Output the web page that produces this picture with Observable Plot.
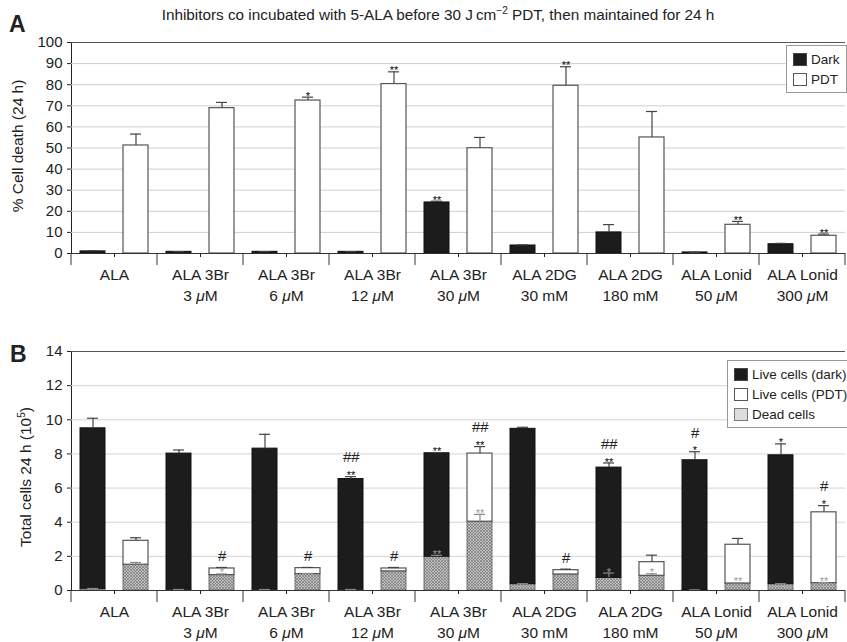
<!DOCTYPE html>
<html><head><meta charset="utf-8">
<script src="https://cdn.jsdelivr.net/npm/d3@7"></script>
<script src="https://cdn.jsdelivr.net/npm/@observablehq/plot@0.6"></script>
<style>
body{margin:0;background:#fff;font-family:"Liberation Sans",Arial,sans-serif;color:#222;}
#root{position:relative;width:847px;height:642px;overflow:hidden;background:#fff;}
.abs{position:absolute;white-space:nowrap;}
.panel{position:absolute;left:0;}
.big{font-weight:bold;font-size:23px;}
.ylab{font-size:15.5px;transform:translate(-50%,-50%) rotate(-90deg);}
.title{font-size:15.3px;transform:translateX(-50%);}
.legend{position:absolute;border:1px solid #999;background:#fff;font-size:13.5px;padding:3px 6px 3px 6px;white-space:nowrap;}
.legend .row{display:flex;align-items:center;height:20px;}
.sw{width:14px;height:13px;margin-right:4px;box-sizing:border-box;border:1px solid #444;flex:none;}
</style></head><body><div id="root"></div>
<script>
// ---------- data ----------
const groups = ["ALA","ALA 3Br 3","ALA 3Br 6","ALA 3Br 12","ALA 3Br 30","ALA 2DG 30","ALA 2DG 180","ALA Lonid 50","ALA Lonid 300"];
const labelLine1 = ["ALA","ALA 3Br","ALA 3Br","ALA 3Br","ALA 3Br","ALA 2DG","ALA 2DG","ALA Lonid","ALA Lonid"];
const labelLine2 = ["","3 μM","6 μM","12 μM","30 μM","30 mM","180 mM","50 μM","300 μM"];
const conds = ["Dark","PDT"];

// Panel A: % cell death (24 h)
const darkA    = [1.0, 0.8, 0.8, 0.8, 24.2, 3.8, 10.0, 0.5, 4.4];
const darkAErr = [1.3, 0.9, 0.9, 0.9, 24.8, 4.1, 13.7, 0.6, 4.8];
const pdtA     = [51.2, 68.9, 72.5, 80.3, 49.9, 79.5, 55.0, 13.6, 8.4];
const pdtAErr  = [56.6, 71.6, 74.1, 86.1, 55.0, 88.5, 67.3, 15.2, 9.2];
const sigDarkA = ["","","","","**","","","",""];
const sigPdtA  = ["","","*","**","","**","","**","**"];
const yTicksA = [0,10,20,30,40,50,60,70,80,90,100];

// Panel B: total cells 24 h (10^5)
const totalDark    = [9.50, 8.02, 8.31, 6.53, 8.04, 9.47, 7.20, 7.63, 7.92];
const totalDarkErr = [10.09, 8.23, 9.15, 6.67, 8.08, 9.56, 7.47, 8.13, 8.59];
const deadDark     = [0.10, 0.05, 0.05, 0.05, 1.98, 0.37, 0.74, 0.03, 0.37];
const deadDarkErr  = [0.12, 0.06, 0.06, 0.06, 2.06, 0.40, 1.02, 0.04, 0.40];
const totalPdt     = [2.91, 1.29, 1.31, 1.29, 8.02, 1.19, 1.66, 2.68, 4.58];
const totalPdtErr  = [3.09, 1.35, 1.35, 1.35, 8.43, 1.25, 2.07, 3.05, 4.97];
const deadPdt      = [1.51, 0.90, 0.96, 1.12, 4.03, 0.94, 0.86, 0.41, 0.43];
const deadPdtErr   = [1.64, 0.97, 1.00, 1.15, 4.46, 0.98, 0.98, 0.45, 0.47];
const starTopDark  = ["","","","**","**","","**","*","*"];
const hashTopDark  = ["","","","##","","","##","#",""];
const starTopPdt   = ["","","","","**","","","","*"];
const hashTopPdt   = ["","#","#","#","##","#","","","#"];
const starDeadDark = ["","","","","**","","*","",""];
const starDeadPdt  = ["","*","","","**","","*","**","**"];
const yTicksB = [0,2,4,6,8,10,12,14];

// ---------- tables ----------
const rowsA = groups.flatMap((g,i) => [
  {group:g, cond:"Dark", value:darkA[i], err:darkAErr[i], sig:sigDarkA[i]},
  {group:g, cond:"PDT",  value:pdtA[i],  err:pdtAErr[i],  sig:sigPdtA[i]}
]);
const rowsB = groups.flatMap((g,i) => [
  {group:g, cond:"Dark", total:totalDark[i], totalErr:totalDarkErr[i], dead:deadDark[i], deadErr:deadDarkErr[i],
   star:starTopDark[i], hash:hashTopDark[i], starDead:starDeadDark[i]},
  {group:g, cond:"PDT", total:totalPdt[i], totalErr:totalPdtErr[i], dead:deadPdt[i], deadErr:deadPdtErr[i],
   star:starTopPdt[i], hash:hashTopPdt[i], starDead:starDeadPdt[i]}
]);
const labelOf = g => { const i = groups.indexOf(g); return labelLine2[i] ? labelLine1[i] + "\n" + labelLine2[i] : labelLine1[i]; };

const FONT = "Liberation Sans, Arial, sans-serif";
const common = (rows) => ({
  width: 847, marginLeft: 69, marginRight: 0,
  style: {fontFamily: FONT, fontSize: "15px", color: "#222", background: "transparent", overflow: "visible"},
  facet: {data: rows, x: "group"},
  fx: {domain: groups, padding: 0, axis: "bottom", label: null, tickSize: 4, tickFormat: () => ""},
  x: {domain: conds, axis: null, paddingInner: 0.42, paddingOuter: 0.21},
});
const capOpts = {insetLeft: 7, insetRight: 7};
const groupLabels = rows => Plot.text(rows, {filter: d => d.cond === "Dark", frameAnchor: "bottom", text: d => labelOf(d.group),
  lineAnchor: "top", dy: 12, lineHeight: 1.35, fontSize: 15.5, fill: "#222"});

// ---------- panel A ----------
const chartA = Plot.plot({
  ...common(rowsA),
  height: 318, marginTop: 42, marginBottom: 65,
  y: {domain: [0,100], ticks: yTicksA, label: null, tickSize: 4, line: true},
  marks: [
    Plot.ruleY(yTicksA.slice(1, -1), {stroke: "#cfcfcf"}),
    Plot.ruleY([100], {stroke: "#555"}),
    Plot.barY(rowsA, {filter: d => d.cond === "Dark", x: "cond", y: "value", fill: "#1c1c1c", stroke: "#111"}),
    Plot.barY(rowsA, {filter: d => d.cond === "PDT", x: "cond", y: "value", fill: "#fff", stroke: "#555", strokeWidth: 1.2}),
    Plot.ruleX(rowsA, {x: "cond", y1: "value", y2: "err", stroke: "#444", strokeWidth: 1.2}),
    Plot.tickY(rowsA, {x: "cond", y: "err", stroke: "#444", strokeWidth: 1.2, ...capOpts}),
    Plot.ruleY([0], {stroke: "#333"}),
    Plot.text(rowsA, {filter: d => d.sig, x: "cond", y: "err", text: "sig", dy: -1, fontSize: 11, fill: "#000"}),
    groupLabels(rowsA)
  ]
});

// ---------- panel B ----------
const chartB = Plot.plot({
  ...common(rowsB),
  height: 324, marginTop: 33, marginBottom: 52,
  y: {domain: [0,14], ticks: yTicksB, label: null, tickSize: 4, line: true},
  marks: [
    Plot.ruleY(yTicksB.slice(1, -1), {stroke: "#d4d4d4"}),
    Plot.ruleY([14], {stroke: "#555"}),
    Plot.barY(rowsB, {x: "cond", y1: 0, y2: "dead", fill: "url(#hatchB)", stroke: "#555", strokeWidth: 0.8}),
    Plot.barY(rowsB, {filter: d => d.cond === "Dark", x: "cond", y1: "dead", y2: "total", fill: "#1c1c1c", stroke: "#111"}),
    Plot.barY(rowsB, {filter: d => d.cond === "PDT", x: "cond", y1: "dead", y2: "total", fill: "#fff", stroke: "#555", strokeWidth: 1.2}),
    Plot.ruleX(rowsB, {x: "cond", y1: "dead", y2: "deadErr", stroke: "#8a8a8a", strokeWidth: 1.2}),
    Plot.tickY(rowsB, {x: "cond", y: "deadErr", stroke: "#8a8a8a", strokeWidth: 1.2, ...capOpts}),
    Plot.ruleX(rowsB, {x: "cond", y1: "total", y2: "totalErr", stroke: "#444", strokeWidth: 1.2}),
    Plot.tickY(rowsB, {x: "cond", y: "totalErr", stroke: "#444", strokeWidth: 1.2, ...capOpts}),
    Plot.ruleY([0], {stroke: "#333"}),
    Plot.text(rowsB, {filter: d => d.starDead, x: "cond", y: "deadErr", text: "starDead", dy: -1, fontSize: 11, fill: "#9a9a9a"}),
    Plot.text(rowsB, {filter: d => d.star, x: "cond", y: "totalErr", text: "star", dy: -1, fontSize: 11, fill: "#000"}),
    Plot.text(rowsB, {filter: d => d.hash && d.star, x: "cond", y: "totalErr", text: "hash", dy: -19, fontSize: 15, fontStyle: "italic", fill: "#222"}),
    Plot.text(rowsB, {filter: d => d.hash && !d.star, x: "cond", y: "totalErr", text: "hash", dy: -11, fontSize: 15, fontStyle: "italic", fill: "#222"}),
    groupLabels(rowsB)
  ]
});

// ---------- post-processing: separators, hatch, italic mu ----------
function decorate(chart, len) {
  const fx = chart.scale("fx"), y = chart.scale("y");
  const y0 = y.apply(0);
  const xs = fx.domain.map(d => fx.apply(d));
  xs.push(xs[xs.length - 1] + fx.bandwidth);
  const g = d3.select(chart).append("g").attr("stroke", "#333").attr("stroke-width", 1);
  xs.forEach(x => g.append("line").attr("x1", x).attr("x2", x).attr("y1", y0).attr("y2", y0 + len));
  d3.select(chart).selectAll("text, tspan").each(function() {
    if (this.children.length === 0 && this.textContent.includes("μ")) {
      this.innerHTML = this.textContent.replace("μ", '<tspan font-style="italic">μ</tspan>');
    }
  });
}
decorate(chartA, 12);
decorate(chartB, 12);

const defs = d3.select(chartB).insert("defs", ":first-child");
const pat = defs.append("pattern").attr("id", "hatchB").attr("patternUnits", "userSpaceOnUse").attr("width", 3).attr("height", 3);
pat.append("rect").attr("width", 3).attr("height", 3).attr("fill", "#c2c2c2");
pat.append("path").attr("d", "M0,0L3,3M3,0L0,3").attr("stroke", "#6c6c6c").attr("stroke-width", 0.6);

// ---------- layout ----------
const root = document.getElementById("root");
const wrapA = document.createElement("div"); wrapA.className = "panel"; wrapA.style.top = "0px"; wrapA.appendChild(chartA);
const wrapB = document.createElement("div"); wrapB.className = "panel"; wrapB.style.top = "318px"; wrapB.appendChild(chartB);
root.appendChild(wrapA); root.appendChild(wrapB);

function addHTML(cls, html, left, top) {
  const d = document.createElement("div"); d.className = "abs " + cls; d.innerHTML = html;
  d.style.left = left + "px"; d.style.top = top + "px"; root.appendChild(d); return d;
}
addHTML("big", "A", 9, 11);
addHTML("big", "B", 10, 341);
addHTML("title", "Inhibitors co incubated with 5-ALA before 30 J\u2009cm<sup style=\"font-size:10px;vertical-align:6px;line-height:0\">\u22122</sup> PDT, then maintained for 24 h", 438, 6);
addHTML("ylab", "% Cell death (24 h)", 17.5, 146);
addHTML("ylab", "Total cells 24 h (10<sup style=\"font-size:10px;vertical-align:6px;line-height:0\">5</sup>)", 26, 477);

const legA = document.createElement("div"); legA.className = "legend";
legA.style.left = "786px"; legA.style.top = "45px";
legA.innerHTML = '<div class="row"><div class="sw" style="background:#1c1c1c"></div>Dark</div>' +
  '<div class="row"><div class="sw" style="background:#fff;border-color:#555"></div>PDT</div>';
root.appendChild(legA);
const legB = document.createElement("div"); legB.className = "legend";
legB.style.left = "727px"; legB.style.top = "360px";
legB.innerHTML = '<div class="row"><div class="sw" style="background:#1c1c1c"></div>Live cells (dark)</div>' +
  '<div class="row"><div class="sw" style="background:#fff;border-color:#555"></div>Live cells (PDT)</div>' +
  '<div class="row"><div class="sw" style="background:#ddd;border-color:#777"></div>Dead cells</div>';
root.appendChild(legB);
</script>
</body></html>
